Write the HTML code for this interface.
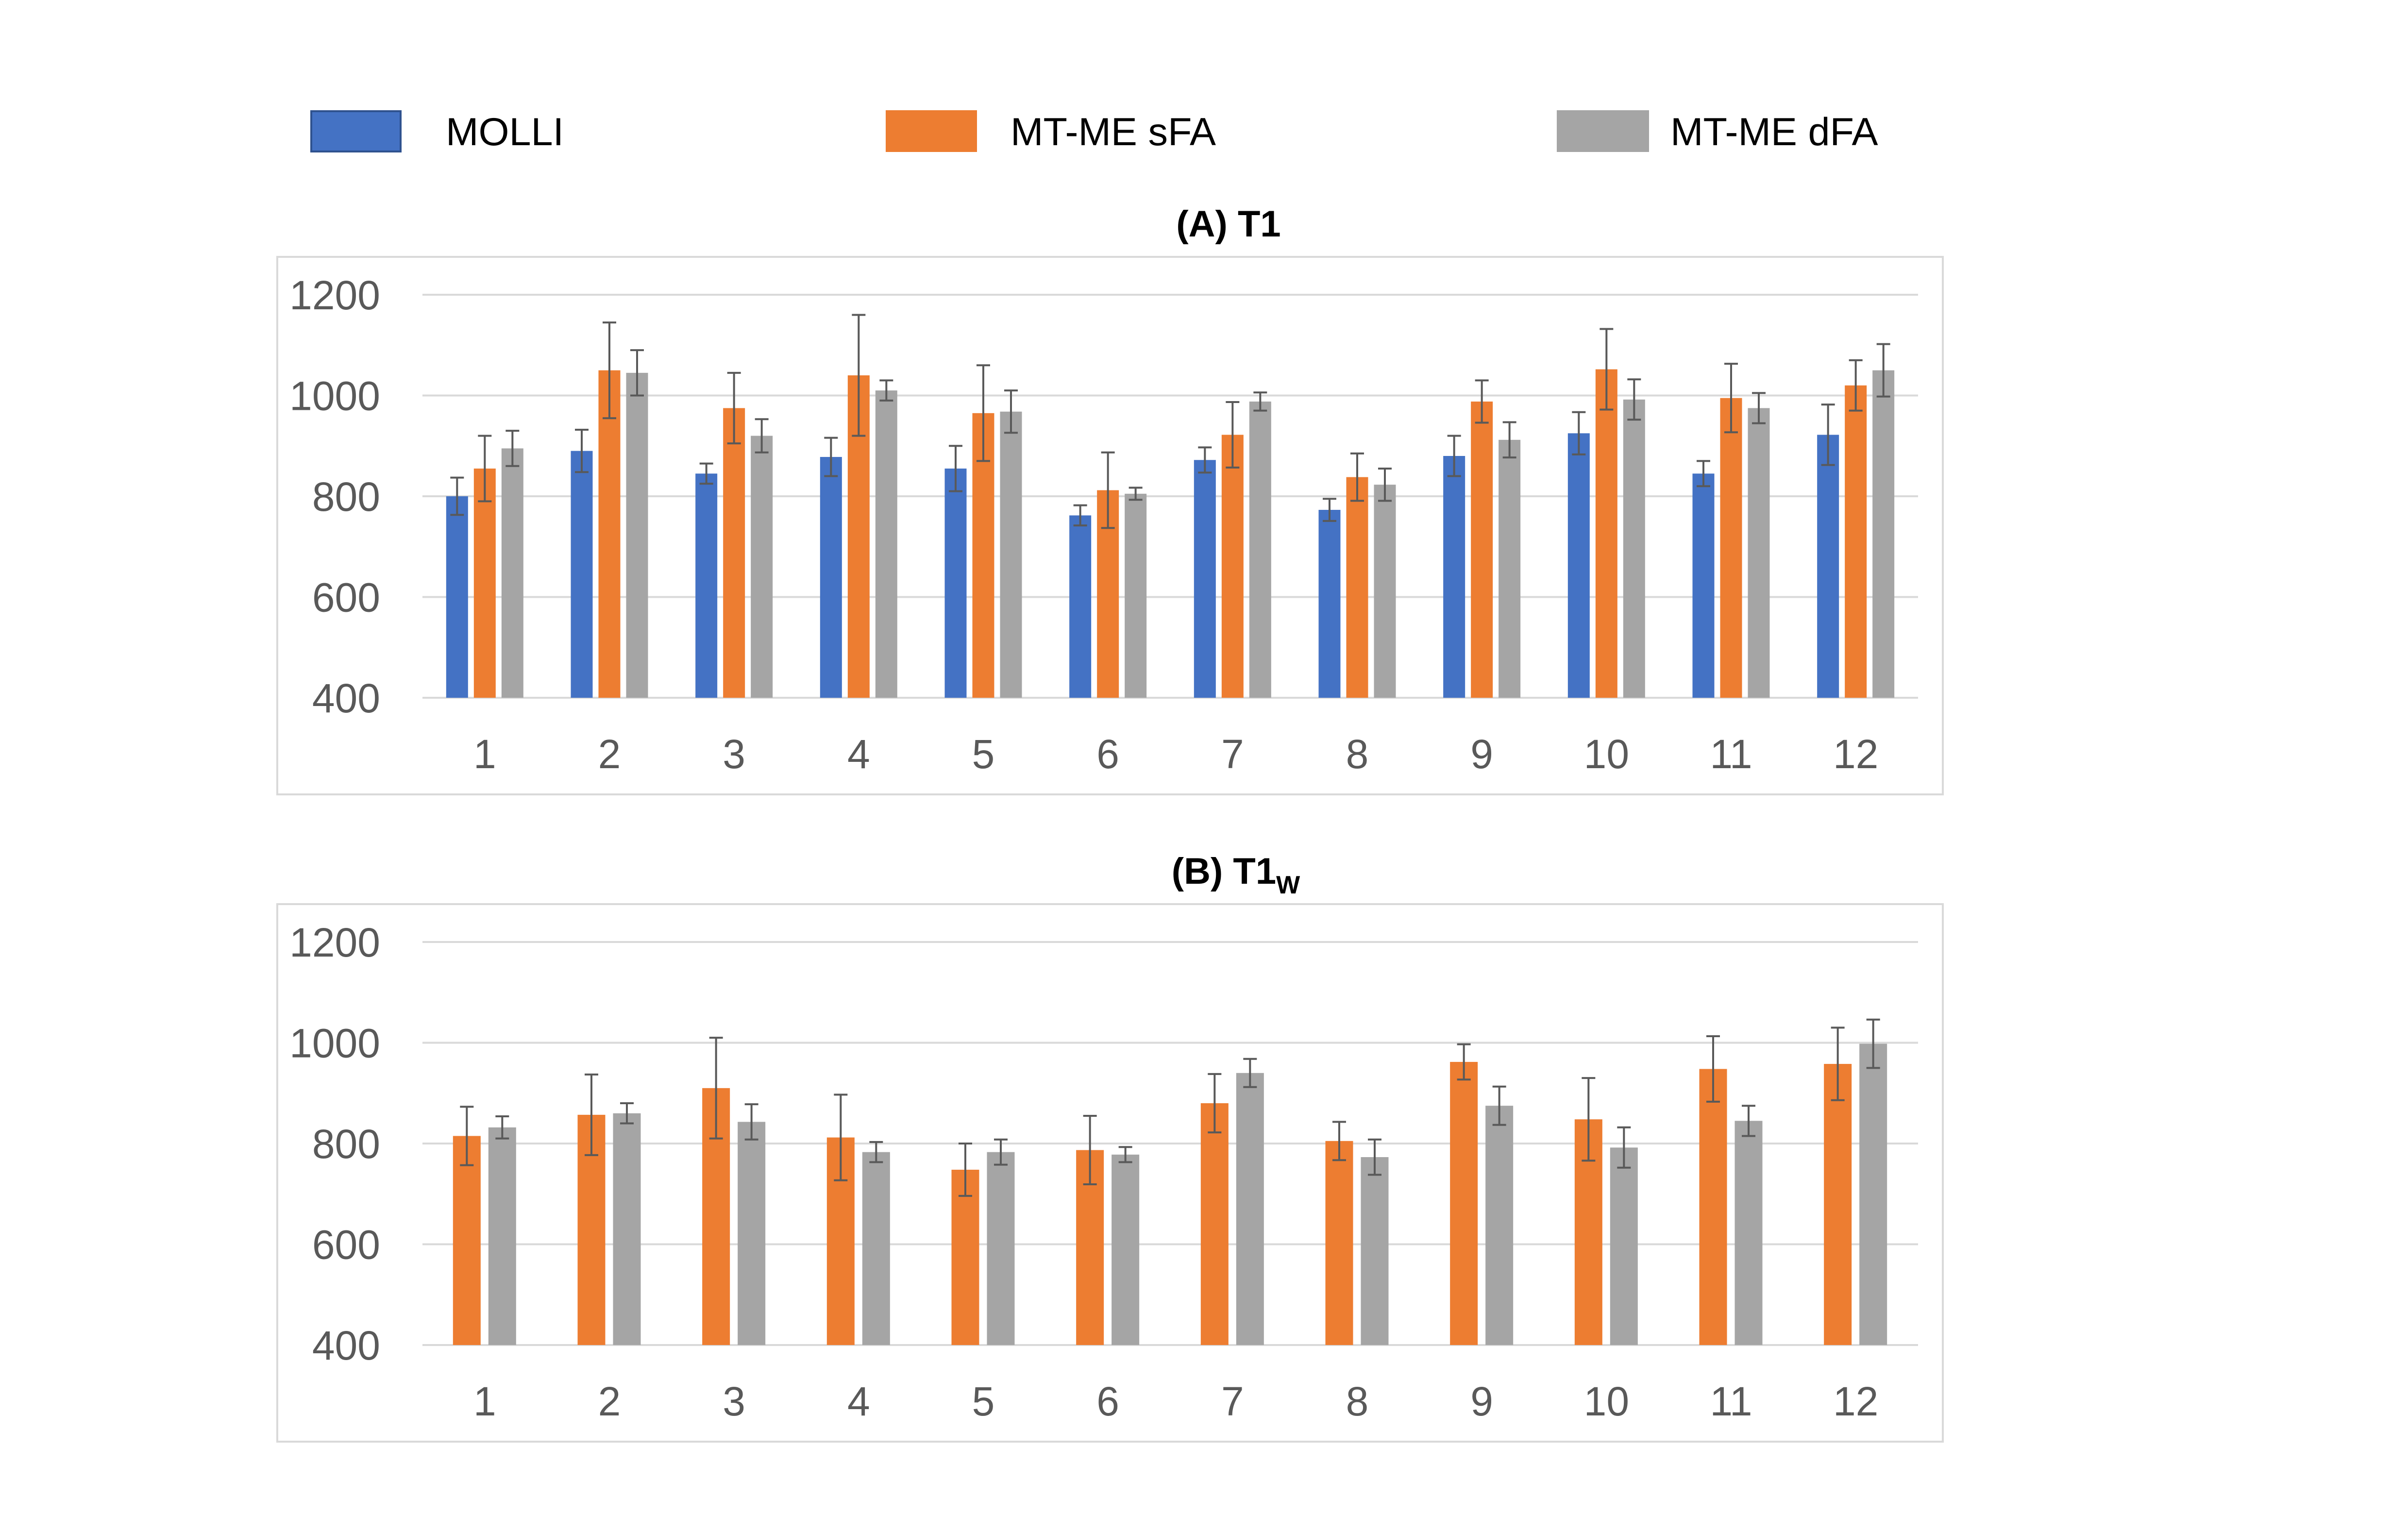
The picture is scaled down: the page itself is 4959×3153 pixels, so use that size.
<!DOCTYPE html>
<html><head><meta charset="utf-8"><style>
html,body{margin:0;padding:0;background:#fff;}
svg{display:block;font-family:"Liberation Sans",sans-serif;}
</style></head><body>
<svg id="chart" width="4959" height="3153" viewBox="0 0 4959 3153" xmlns="http://www.w3.org/2000/svg">
<rect width="4959" height="3153" fill="#fff"/>
<g>
<g><rect x="641" y="229" width="184" height="83" fill="#4472C4" stroke="#2F528F" stroke-width="4"/><text x="918" y="299" font-size="81" fill="#000">MOLLI</text></g>
<g><rect x="1824" y="227" width="188" height="86" fill="#ED7D31"/><text x="2081" y="299" font-size="81" fill="#000">MT-ME sFA</text></g>
<g><rect x="3206" y="227" width="190" height="86" fill="#A5A5A5"/><text x="3440" y="299" font-size="81" fill="#000">MT-ME dFA</text></g>
</g>
<text x="2530" y="487" font-size="76" font-weight="bold" text-anchor="middle">(A) T1</text>
<text x="2545" y="1820" font-size="76" font-weight="bold" text-anchor="middle">(B) T1<tspan font-size="52" dy="20">W</tspan></text>
<g id="ga"></g>
<g id="gb"></g>
</svg>
<script>
const categories = ["1","2","3","4","5","6","7","8","9","10","11","12"];
const yTicks = [400,600,800,1000,1200];
const aMolli = [800,890,845,878,855,762,872,773,880,925,845,922];
const aMolliErr = [37,42,20,38,45,20,25,22,40,42,25,60];
const aSfa = [855,1050,975,1040,965,812,922,838,988,1052,995,1020];
const aSfaErr = [65,95,70,120,95,75,65,47,42,80,68,50];
const aDfa = [895,1045,920,1010,968,805,988,823,912,992,975,1050];
const aDfaErr = [35,45,33,20,42,12,18,32,35,40,30,52];
const bSfa = [815,857,910,812,748,787,880,805,962,848,948,958];
const bSfaErr = [58,80,100,85,52,68,58,38,35,82,65,72];
const bDfa = [832,860,843,783,783,778,940,773,875,792,845,998];
const bDfaErr = [22,20,35,20,25,15,28,35,38,40,30,48];

const NS="http://www.w3.org/2000/svg";
function mk(parent,tag,attrs){const e=document.createElementNS(NS,tag);for(const k in attrs)e.setAttribute(k,attrs[k]);parent.appendChild(e);return e;}

function drawChart(g, top, series, offsets, bw, prefix){
  const boxL=571, boxR=4001, boxT=top, boxB=top+1107;
  const plotL=870, plotR=3950, y1200=top+78, y400=top+908;
  const y=v=>y400-(v-400)/800*(y400-y1200);
  const step=(plotR-plotL)/categories.length;
  const xc=i=>plotL+step*(i+0.5);
  const box=mk(g,'rect',{x:boxL,y:boxT,width:boxR-boxL,height:boxB-boxT,fill:'none',stroke:'#D9D9D9','stroke-width':4});
  
  
  yTicks.forEach(t=>{
    const l=mk(g,'line',{x1:plotL,x2:plotR,y1:y(t),y2:y(t),stroke:'#D9D9D9','stroke-width':4});
    
    
    const tx=mk(g,'text',{x:783,y:y(t)+30,'font-size':84,fill:'#595959','text-anchor':'end'});
    tx.textContent=t;
    
    
  });
  categories.forEach((c,i)=>{
    const tx=mk(g,'text',{x:xc(i),y:top+1053,'font-size':84,fill:'#595959','text-anchor':'middle'});
    tx.textContent=c;
    
    
  });
  series.forEach((s,si)=>{
    s.vals.forEach((v,i)=>{
      const cx=xc(i)+offsets[si];
      const r=mk(g,'rect',{x:cx-bw/2,y:y(v),width:bw,height:y400-y(v),fill:s.color});
      
      
      const e=s.err[i];
      const eg=mk(g,'path',{d:`M${cx},${y(v+e)}V${y(v-e)}M${cx-14},${y(v+e)}h28M${cx-14},${y(v-e)}h28`,stroke:'#595959','stroke-width':4,fill:'none'});
      
      
    });
  });
}
drawChart(document.getElementById('ga'),529,[
  {key:'molli',vals:aMolli,err:aMolliErr,color:'#4472C4'},
  {key:'sfa',vals:aSfa,err:aSfaErr,color:'#ED7D31'},
  {key:'dfa',vals:aDfa,err:aDfaErr,color:'#A5A5A5'}],[-57,0,57],45,'chart-a');
drawChart(document.getElementById('gb'),1862,[
  {key:'sfa',vals:bSfa,err:bSfaErr,color:'#ED7D31'},
  {key:'dfa',vals:bDfa,err:bDfaErr,color:'#A5A5A5'}],[-37,36],57,'chart-b');
</script>
</body></html>
